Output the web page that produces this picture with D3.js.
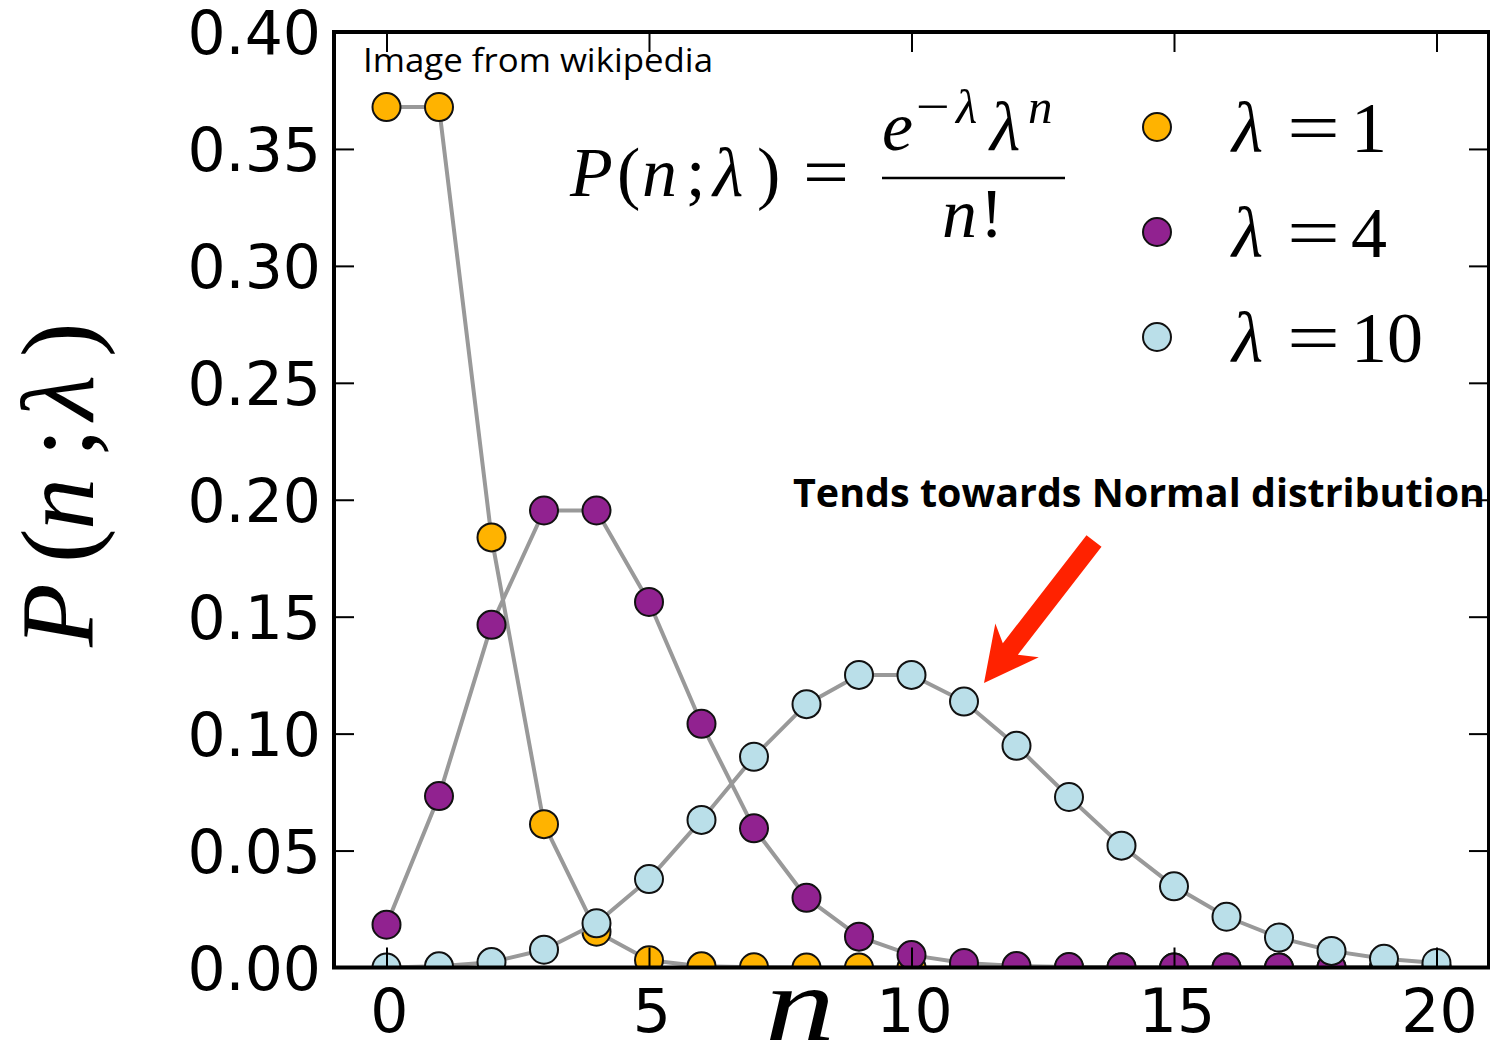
<!DOCTYPE html>
<html>
<head>
<meta charset="utf-8">
<script src="https://cdn.jsdelivr.net/npm/d3@7"></script>
<style>
  html, body { margin: 0; padding: 0; background: #fff; overflow: hidden; }
  svg { display: block; }
</style>
</head>
<body>
<svg id="chart"></svg>
<script>
// n = 0..20
const nValues = [0, 1, 2, 3, 4, 5, 6, 7, 8, 9, 10, 11, 12, 13, 14, 15, 16, 17, 18, 19, 20];

// P(n; lambda)
const lambda1Values = [0.3679, 0.3679, 0.1839, 0.0613, 0.0153, 0.0031, 0.0005, 0.0001, 0.0000, 0.0000,
                       0.0000, 0.0000, 0.0000, 0.0000, 0.0000, 0.0000, 0.0000, 0.0000, 0.0000, 0.0000, 0.0000];
const lambda4Values = [0.0183, 0.0733, 0.1465, 0.1954, 0.1954, 0.1563, 0.1042, 0.0595, 0.0298, 0.0132,
                       0.0053, 0.0019, 0.0006, 0.0002, 0.0001, 0.0000, 0.0000, 0.0000, 0.0000, 0.0000, 0.0000];
const lambda10Values = [0.0000, 0.0005, 0.0023, 0.0076, 0.0189, 0.0378, 0.0631, 0.0901, 0.1126, 0.1251,
                        0.1251, 0.1137, 0.0948, 0.0729, 0.0521, 0.0347, 0.0217, 0.0128, 0.0071, 0.0037, 0.0019];

const seriesLabels = ["1", "4", "10"];
const seriesColors = ["#ffb300", "#912290", "#badfe9"];

const xTickValues = [0, 5, 10, 15, 20];
const yTickValues = [0, 0.05, 0.10, 0.15, 0.20, 0.25, 0.30, 0.35, 0.40];

const width = 1490;
const height = 1048;
const plot = { left: 334, right: 1489, top: 32, bottom: 967.5 };

const svg = d3.select("#chart")
    .attr("width", width)
    .attr("height", height);

const xScale = d3.scaleLinear().domain([-1, 21]).range([plot.left, plot.right]);
const yScale = d3.scaleLinear().domain([0, 0.40]).range([plot.bottom, plot.top]);

svg.append("defs").append("clipPath")
    .attr("id", "plot-clip")
    .append("rect")
    .attr("x", plot.left)
    .attr("y", plot.top)
    .attr("width", plot.right - plot.left)
    .attr("height", plot.bottom - plot.top);

const series = [lambda1Values, lambda4Values, lambda10Values].map((vals, i) => ({
    label: seriesLabels[i],
    color: seriesColors[i],
    points: nValues.map((n, j) => ({ n: n, p: vals[j] }))
}));

const lineGenerator = d3.line()
    .x(d => xScale(d.n))
    .y(d => yScale(d.p));

const marks = svg.append("g").attr("clip-path", "url(#plot-clip)");

series.forEach(s => {
    marks.append("path")
        .attr("d", lineGenerator(s.points))
        .attr("fill", "none")
        .attr("stroke", "#999999")
        .attr("stroke-width", 4)
        .attr("stroke-linejoin", "round");

    marks.selectAll(null)
        .data(s.points)
        .enter()
        .append("circle")
        .attr("cx", d => xScale(d.n))
        .attr("cy", d => yScale(d.p))
        .attr("r", 14)
        .attr("fill", s.color)
        .attr("stroke", "#111")
        .attr("stroke-width", 2);
});

// Axes: ticks on all four sides, pointing inward
function styleAxis(g) {
    g.select(".domain").remove();
    g.selectAll(".tick line").attr("stroke", "#000").attr("stroke-width", 2);
    g.selectAll(".tick text")
        .attr("fill", "#000")
        .attr("font-family", "'DejaVu Sans', sans-serif")
        .attr("font-size", "60px");
}

svg.append("g")
    .attr("transform", `translate(0,${plot.bottom})`)
    .call(d3.axisBottom(xScale).tickValues(xTickValues).tickSizeInner(-20).tickSizeOuter(0)
        .tickPadding(22).tickFormat(d3.format("d")))
    .call(styleAxis)
    .selectAll(".tick text").attr("dx", "0.04em");

svg.append("g")
    .attr("transform", `translate(0,${plot.top})`)
    .call(d3.axisTop(xScale).tickValues(xTickValues).tickSizeInner(-20).tickSizeOuter(0).tickFormat(""))
    .call(styleAxis);

svg.append("g")
    .attr("transform", `translate(${plot.left},0)`)
    .call(d3.axisLeft(yScale).tickValues(yTickValues).tickSizeInner(-20).tickSizeOuter(0)
        .tickPadding(13).tickFormat(d3.format(".2f")))
    .call(styleAxis)
    .selectAll(".tick text").attr("dy", "0.36em");

svg.append("g")
    .attr("transform", `translate(${plot.right},0)`)
    .call(d3.axisRight(yScale).tickValues(yTickValues).tickSizeInner(-20).tickSizeOuter(0).tickFormat(""))
    .call(styleAxis);

// frame
svg.append("rect")
    .attr("x", plot.left)
    .attr("y", plot.top)
    .attr("width", plot.right - plot.left)
    .attr("height", plot.bottom - plot.top)
    .attr("fill", "none")
    .attr("stroke", "#000")
    .attr("stroke-width", 4);

const serif = "'Liberation Serif', 'Times New Roman', serif";

// axis labels
const yLabel = svg.append("text")
    .attr("transform", "translate(93,647) rotate(-90)")
    .attr("font-family", serif)
    .attr("font-size", "104px")
    .attr("fill", "#000");
[["P", 0, true], ["(", 84, false], ["n", 117, true], [";", 190, false], ["\u03bb", 227, true], [")", 290, false]]
    .forEach(([t, x, it]) => {
        yLabel.append("tspan").attr("x", x).attr("font-style", it ? "italic" : "normal").text(t);
    });

svg.append("text")
    .attr("x", 765)
    .attr("y", 1040)
    .attr("font-family", serif)
    .attr("font-style", "italic")
    .attr("font-size", "106px")
    .attr("textLength", 70)
    .attr("lengthAdjust", "spacingAndGlyphs")
    .text("n");

// formula P(n;λ) = e^-λ λ^n / n!
const formula = svg.append("g")
    .attr("font-family", serif)
    .attr("font-size", "70px")
    .attr("fill", "#000");

function glyph(t, x, y, opts = {}) {
    const el = formula.append("text")
        .attr("x", x)
        .attr("y", y)
        .attr("font-style", opts.italic ? "italic" : "normal")
        .text(t);
    if (opts.size) el.attr("font-size", opts.size + "px");
    if (opts.len) el.attr("textLength", opts.len).attr("lengthAdjust", "spacingAndGlyphs");
    return el;
}

glyph("P", 570, 196, { italic: true });
glyph("(", 617, 196);
glyph("n", 642, 196, { italic: true });
glyph(";", 686, 196);
glyph("\u03bb", 713, 196, { italic: true });
glyph(")", 757, 196);
glyph("=", 803, 196, { len: 46 });

glyph("e", 882, 150, { italic: true });
glyph("\u2212", 916, 123, { size: 49, len: 34 });
glyph("\u03bb", 956, 123, { italic: true, size: 49 });
glyph("\u03bb", 990, 150, { italic: true });
glyph("n", 1028, 123, { italic: true, size: 49 });
formula.append("line")
    .attr("x1", 882).attr("x2", 1065)
    .attr("y1", 178).attr("y2", 178)
    .attr("stroke", "#000")
    .attr("stroke-width", 2.5);
glyph("n", 942, 237, { italic: true });
glyph("!", 980, 237);

// legend
const legend = svg.append("g");
const legendRows = [127, 232, 337];
series.forEach((s, i) => {
    const row = legend.append("g").attr("transform", `translate(0,${legendRows[i]})`);
    row.append("circle")
        .attr("cx", 1157)
        .attr("cy", 0)
        .attr("r", 14)
        .attr("fill", s.color)
        .attr("stroke", "#111")
        .attr("stroke-width", 2);
    const txt = row.append("g")
        .attr("font-family", serif)
        .attr("font-size", "72px")
        .attr("fill", "#000");
    txt.append("text").attr("x", 1232).attr("y", 25).attr("font-style", "italic").text("\u03bb");
    txt.append("text").attr("x", 1287).attr("y", 25)
        .attr("textLength", 53).attr("lengthAdjust", "spacingAndGlyphs").text("=");
    txt.append("text").attr("x", 1351).attr("y", 25).text(s.label);
});

// annotations
svg.append("text")
    .attr("x", 363)
    .attr("y", 72)
    .attr("font-family", "'Open Sans', sans-serif")
    .attr("font-size", "33px")
    .attr("textLength", 350)
    .attr("lengthAdjust", "spacingAndGlyphs")
    .attr("fill", "#000")
    .text("Image from wikipedia");

svg.append("text")
    .attr("x", 793)
    .attr("y", 507)
    .attr("font-family", "'Open Sans', sans-serif")
    .attr("font-weight", "bold")
    .attr("font-size", "40px")
    .attr("textLength", 692)
    .attr("lengthAdjust", "spacingAndGlyphs")
    .attr("fill", "#000")
    .text("Tends towards Normal distribution");

// red arrow pointing at the λ=10 curve
const tip = [984, 683];
const tail = [1094, 541];
const dx = tail[0] - tip[0], dy = tail[1] - tip[1];
const len = Math.hypot(dx, dy);
const ux = dx / len, uy = dy / len;      // along the arrow, tip -> tail
const vx = -uy, vy = ux;                  // across the arrow
const arrowShape = [[0, 0], [54, -27.5], [43, -9.5], [len, -9.5], [len, 9.5], [43, 9.5], [54, 27.5]];
svg.append("polygon")
    .attr("points", arrowShape.map(([u, v]) =>
        `${tip[0] + u * ux + v * vx},${tip[1] + u * uy + v * vy}`).join(" "))
    .attr("fill", "#ff2200");
</script>
</body>
</html>
